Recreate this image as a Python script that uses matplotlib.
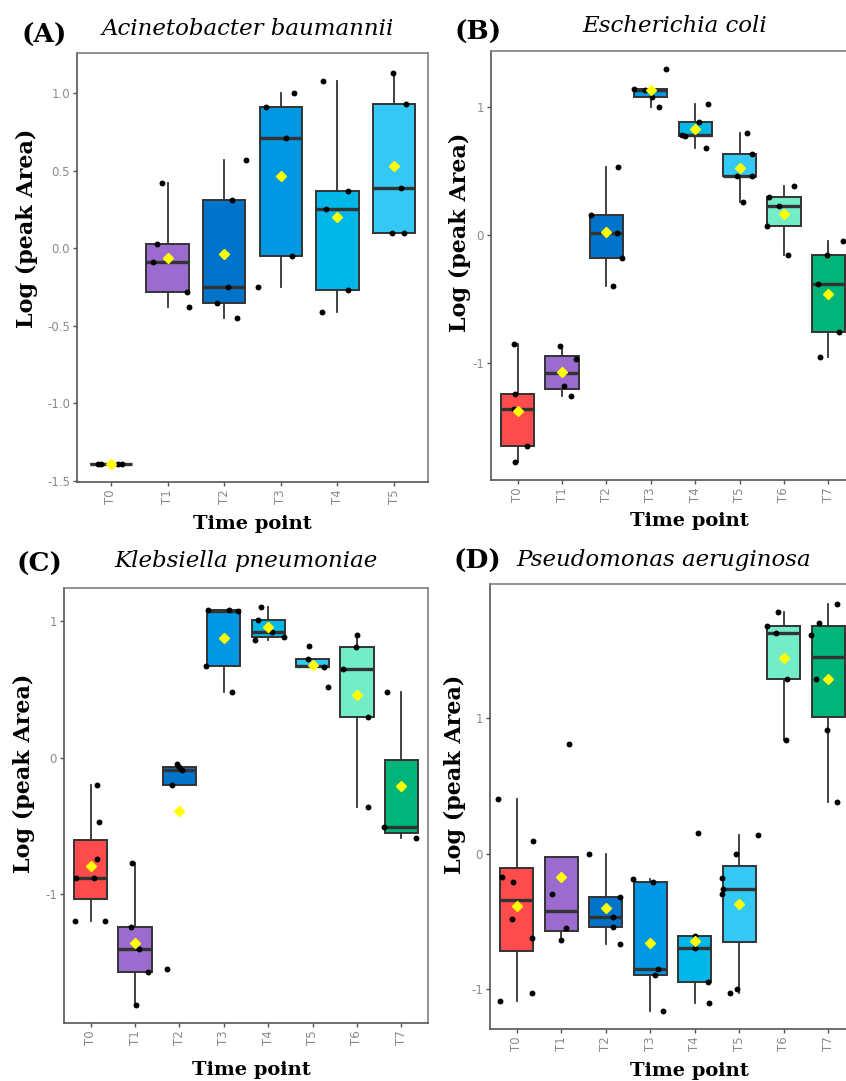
import numpy as np
import matplotlib.pyplot as plt

W, H = 846, 1081

box_colors = ['#FF4B4B', '#9B6BD0', '#0074CA', '#0098E2',
              '#00B7EA', '#33C9F4', '#72EDC8', '#00B47A']

# (A) Acinetobacter baumannii
a_cats = ['T0', 'T1', 'T2', 'T3', 'T4', 'T5']
a_vals = [[-1.39, -1.39, -1.39, -1.39],
          [0.42, 0.03, -0.09, -0.28, -0.38],
          [0.31, 0.57, -0.25, -0.35, -0.45],
          [0.91, 0.71, 1.00, -0.05, -0.25],
          [1.08, 0.37, 0.25, -0.27, -0.41],
          [1.13, 0.93, 0.39, 0.10, 0.10]]
a_dx = [[-0.23, -0.18, 0.12, 0.20],
        [-0.09, -0.19, -0.26, 0.35, 0.37],
        [0.14, 0.39, 0.07, -0.12, 0.23],
        [-0.26, 0.09, 0.23, 0.19, -0.41],
        [-0.25, 0.18, -0.21, 0.18, -0.28],
        [-0.02, 0.21, 0.12, -0.04, 0.18]]
a_yticks = [-1.5, -1.0, -0.5, 0.0, 0.5, 1.0]
a_ylabels = ['-1.5', '-1.0', '-0.5', '0.0', '0.5', '1.0']

# (B) Escherichia coli
b_cats = ['T0', 'T1', 'T2', 'T3', 'T4', 'T5', 'T6', 'T7']
b_vals = [[-0.85, -1.24, -1.36, -1.65, -1.77],
          [-0.87, -0.97, -1.18, -1.26],
          [0.53, 0.16, 0.015, -0.18, -0.40],
          [1.14, 1.13, 1.30, 1.00, 1.08],
          [1.02, 0.88, 0.77, 0.78, 0.68],
          [0.80, 0.63, 0.46, 0.26, 0.46],
          [0.30, 0.23, 0.07, 0.38, -0.16],
          [-0.05, -0.16, -0.38, -0.76, -0.95]]
b_dx = [[-0.09, -0.05, -0.09, 0.20, -0.05],
        [-0.05, 0.32, 0.05, 0.20],
        [0.27, -0.34, 0.23, 0.34, 0.14],
        [-0.38, -0.14, 0.34, 0.18, 0.02],
        [0.29, 0.09, -0.23, -0.29, 0.25],
        [0.16, 0.29, 0.29, 0.07, -0.05],
        [-0.34, -0.11, -0.38, 0.23, 0.09],
        [0.32, -0.02, -0.23, 0.25, -0.18]]
b_yticks = [-1, 0, 1]
b_ylabels = ['-1', '0', '1']

# (C) Klebsiella pneumoniae
c_cats = ['T0', 'T1', 'T2', 'T3', 'T4', 'T5', 'T6', 'T7']
c_vals = [[-0.20, -0.47, -0.74, -0.88, -0.88, -1.20, -1.20],
          [-0.77, -1.24, -1.40, -1.57, -1.81],
          [-0.05, -0.07, -0.09, -0.20, -1.55],
          [1.08, 1.08, 1.07, 0.67, 0.48],
          [1.10, 1.01, 0.92, 0.86, 0.88],
          [0.82, 0.72, 0.66, 0.52, 0.67],
          [0.90, 0.81, 0.65, 0.30, -0.36],
          [0.48, -0.51, -0.59]]
c_dx = [[0.14, 0.18, 0.14, -0.34, 0.07, -0.36, 0.32],
        [-0.07, -0.09, 0.09, 0.29, 0.02],
        [-0.05, 0.00, 0.05, -0.16, -0.27],
        [-0.36, 0.11, 0.32, -0.41, 0.18],
        [-0.16, -0.23, 0.09, -0.29, 0.36],
        [-0.09, -0.11, 0.25, 0.34, 0.00],
        [0.00, -0.02, -0.32, 0.25, 0.25],
        [-0.32, -0.38, 0.34]]
c_yticks = [-1, 0, 1]
c_ylabels = ['-1', '0', '1']

# (D) Pseudomonas aeruginosa
d_cats = ['T0', 'T1', 'T2', 'T3', 'T4', 'T5', 'T6', 'T7']
d_vals = [[0.40, 0.09, -0.17, -0.21, -0.48, -0.62, -1.09, -1.03],
          [0.81, -0.30, -0.55, -0.64],
          [0.00, -0.32, -0.47, -0.54, -0.67],
          [-0.19, -0.21, -0.85, -0.90, -1.16],
          [0.15, -0.61, -0.70, -0.95, -1.10],
          [0.14, 0.00, -0.18, -0.26, -0.30, -1.03, -1.00],
          [1.78, 1.68, 1.63, 1.29, 0.84],
          [1.84, 1.70, 1.61, 1.29, 0.91, 0.38]]
d_dx = [[-0.41, 0.36, -0.32, -0.09, -0.11, 0.34, -0.38, 0.34],
        [0.18, -0.20, 0.11, 0.00],
        [-0.38, 0.32, 0.16, 0.16, 0.32],
        [-0.38, 0.07, 0.18, 0.11, 0.29],
        [0.07, 0.00, 0.00, 0.29, 0.32],
        [0.41, -0.07, -0.38, -0.36, -0.38, -0.20, -0.05],
        [-0.14, -0.38, -0.18, 0.07, 0.05],
        [0.20, -0.20, -0.38, -0.27, -0.02, 0.20]]
d_yticks = [-1, 0, 1]
d_ylabels = ['-1', '0', '1']

SERIF = 'DejaVu Serif'


def px_axes(fig, l, t, r, b):
    return fig.add_axes([l / W, (H - b) / H, (r - l) / W, (b - t) / H])


def ftext(fig, x, y, s, **kw):
    fig.text(x / W, (H - y) / H, s, ha='center', va='center', **kw)


def draw(ax, cats, vals, dx, yticks, ylabels, ylim):
    pos = np.arange(len(cats))
    bp = ax.boxplot(vals, positions=pos, widths=0.75, patch_artist=True,
                    showfliers=False, showcaps=False, showmeans=True,
                    boxprops=dict(edgecolor='#333333', linewidth=1.4),
                    whiskerprops=dict(color='#333333', linewidth=1.3),
                    medianprops=dict(color='#333333', linewidth=2.4),
                    meanprops=dict(marker='D', markerfacecolor='#FFFF00',
                                   markeredgecolor='#FFFF00', markersize=5.5))
    for patch, c in zip(bp['boxes'], box_colors):
        patch.set_facecolor(c)
    for m in bp['means']:
        m.set_zorder(6)
    for i, (v, d) in enumerate(zip(vals, dx)):
        ax.scatter(i + np.array(d), v, s=18, color='black', zorder=5,
                   linewidths=0)
    ax.set_xlim(-0.6, len(cats) - 0.4)
    ax.set_ylim(*ylim)
    ax.set_xticks(pos)
    ax.set_xticklabels(cats, rotation=90)
    ax.set_yticks(yticks)
    ax.set_yticklabels(ylabels)
    ax.tick_params(length=3, width=1, color='#555555', labelsize=8.5,
                   labelcolor='#8a8a8a', pad=2)
    for sp in ax.spines.values():
        sp.set_color('#7f7f7f')
        sp.set_linewidth(1.2)
    ax.spines['left'].set_color('#555555')
    ax.spines['bottom'].set_color('#555555')


fig = plt.figure(figsize=(W / 100, H / 100), dpi=100)

axA = px_axes(fig, 77, 53, 428, 482)
draw(axA, a_cats, a_vals, a_dx, a_yticks, a_ylabels, (-1.506, 1.258))
axB = px_axes(fig, 491, 51, 855, 480)
draw(axB, b_cats, b_vals, b_dx, b_yticks, b_ylabels, (-1.914, 1.4375))
axC = px_axes(fig, 64, 588, 428, 1023)
draw(axC, c_cats, c_vals, c_dx, c_yticks, c_ylabels, (-1.945, 1.242))
axD = px_axes(fig, 490, 584, 855, 1029)
draw(axD, d_cats, d_vals, d_dx, d_yticks, d_ylabels, (-1.295, 1.989))

letter_kw = dict(family=SERIF, fontsize=19, fontweight='bold')
title_kw = dict(family=SERIF, fontsize=16.5, style='italic')
ylab_kw = dict(family=SERIF, fontsize=16, fontweight='bold', rotation=90)
xlab_kw = dict(family=SERIF, fontsize=14, fontweight='bold')

ftext(fig, 44, 35, '(A)', **letter_kw)
ftext(fig, 248, 29, 'Acinetobacter baumannii', **title_kw)
ftext(fig, 478, 32, '(B)', **letter_kw)
ftext(fig, 675, 26, 'Escherichia coli', **title_kw)
ftext(fig, 39, 564, '(C)', **letter_kw)
ftext(fig, 246, 561, 'Klebsiella pneumoniae', **title_kw)
ftext(fig, 477, 561, '(D)', **letter_kw)
ftext(fig, 664, 560, 'Pseudomonas aeruginosa', **title_kw)

ftext(fig, 27, 228, 'Log (peak Area)', **ylab_kw)
ftext(fig, 460, 232, 'Log (peak Area)', **ylab_kw)
ftext(fig, 24, 773, 'Log (peak Area)', **ylab_kw)
ftext(fig, 455, 774, 'Log (peak Area)', **ylab_kw)

ftext(fig, 252, 524, 'Time point', **xlab_kw)
ftext(fig, 689, 521, 'Time point', **xlab_kw)
ftext(fig, 251, 1070, 'Time point', **xlab_kw)
ftext(fig, 689, 1071, 'Time point', **xlab_kw)

fig.savefig('out.png', dpi=100)
